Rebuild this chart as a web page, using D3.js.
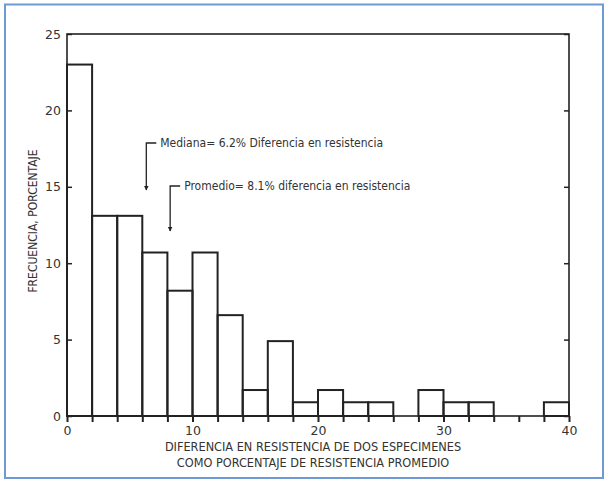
<!DOCTYPE html>
<html>
<head>
<meta charset="utf-8">
<script src="https://cdn.jsdelivr.net/npm/d3@7"></script>
<style>
  html, body { margin: 0; padding: 0; background: #fff; }
  svg { display: block; }
  text { font-family: "DejaVu Sans Condensed", "DejaVu Sans", sans-serif; fill: #333; }
</style>
</head>
<body>
<script>
// Histogram: difference in strength between two specimens (2 % bins)
const binStarts = [0, 2, 4, 6, 8, 10, 12, 14, 16, 18, 20, 22, 24, 26, 28, 30, 32, 34, 36, 38];
const frequency = [23, 13.1, 13.1, 10.7, 8.2, 10.7, 6.6, 1.7, 4.9, 0.9, 1.7, 0.9, 0.9, 0, 1.7, 0.9, 0.9, 0, 0, 0.9];
const binWidth = 2;
const xTickLabels = [0, 10, 20, 30, 40];
const yTickLabels = [0, 5, 10, 15, 20, 25];
const medianValue = 6.2;
const meanValue = 8.1;
const medianText = "Mediana= 6.2% Diferencia en resistencia";
const meanText = "Promedio= 8.1% diferencia en resistencia";
const xTitleLines = ["DIFERENCIA EN RESISTENCIA DE DOS ESPECIMENES", "COMO PORCENTAJE DE RESISTENCIA PROMEDIO"];
const yTitle = "FRECUENCIA, PORCENTAJE";

const W = 605, H = 482;
const plotLeft = 67, plotRight = 569, plotTop = 34, plotBottom = 416;
const ink = "#222";

const svg = d3.select("body").append("svg").attr("width", W).attr("height", H);

// outer blue frame
svg.append("rect")
  .attr("x", 5).attr("y", 4.5).attr("width", W - 7).attr("height", H - 8.5)
  .attr("fill", "#fff").attr("stroke", "#6e9bd6").attr("stroke-width", 2);

const x = d3.scaleLinear().domain([0, 40]).range([plotLeft, plotRight]);
const y = d3.scaleLinear().domain([0, 25]).range([plotBottom, plotTop]);

// plot frame
svg.append("rect")
  .attr("x", plotLeft).attr("y", plotTop)
  .attr("width", plotRight - plotLeft).attr("height", plotBottom - plotTop)
  .attr("fill", "none").attr("stroke", ink).attr("stroke-width", 1.6);

// bars
svg.append("g").selectAll("rect")
  .data(binStarts.map((s, i) => ({ s, v: frequency[i] })).filter(d => d.v > 0))
  .join("rect")
  .attr("x", d => x(d.s))
  .attr("y", d => y(d.v))
  .attr("width", d => x(d.s + binWidth) - x(d.s))
  .attr("height", d => y(0) - y(d.v))
  .attr("fill", "none").attr("stroke", ink).attr("stroke-width", 2);

// x axis: bin-edge ticks and numeric labels
const binEdges = d3.range(0, 40 + binWidth, binWidth);
const xTicks = svg.append("g").attr("transform", `translate(0,${plotBottom})`)
  .call(d3.axisBottom(x).tickValues(binEdges).tickSize(6).tickFormat(""));
xTicks.select(".domain").remove();
xTicks.selectAll("line").attr("stroke", ink).attr("stroke-width", 2);

const xLabels = svg.append("g").attr("transform", `translate(0,${plotBottom})`)
  .call(d3.axisBottom(x).tickValues(xTickLabels).tickSize(0).tickPadding(10).tickFormat(d3.format("d")));
xLabels.select(".domain").remove();
xLabels.selectAll("text").attr("font-size", 12.5).attr("fill", "#333")
  .style("font-family", "'DejaVu Sans', sans-serif");

// y axis: inward ticks on both sides
const yLeft = svg.append("g").attr("transform", `translate(${plotLeft},0)`)
  .call(d3.axisLeft(y).tickValues(yTickLabels).tickSizeInner(-5).tickSizeOuter(0).tickPadding(6));
yLeft.select(".domain").remove();
yLeft.selectAll("line").attr("stroke", ink).attr("stroke-width", 1.5);
yLeft.selectAll("text").attr("font-size", 12.5).attr("fill", "#333")
  .style("font-family", "'DejaVu Sans', sans-serif");

const yRight = svg.append("g").attr("transform", `translate(${plotRight},0)`)
  .call(d3.axisRight(y).tickValues(yTickLabels).tickSizeInner(-5).tickSizeOuter(0).tickFormat(""));
yRight.select(".domain").remove();
yRight.selectAll("line").attr("stroke", ink).attr("stroke-width", 1.5);

// axis titles
svg.append("g").selectAll("text")
  .data(xTitleLines).join("text")
  .attr("x", 313)
  .attr("y", (d, i) => 450.5 + i * 16.5)
  .attr("text-anchor", "middle")
  .attr("font-size", 12.6)
  .text(d => d);

svg.append("text")
  .attr("transform", "translate(37,221) rotate(-90)")
  .attr("text-anchor", "middle")
  .attr("font-size", 12)
  .text(yTitle);

// median / mean annotations with arrows
svg.append("defs").append("marker")
  .attr("id", "arrow").attr("viewBox", "0 0 10 10")
  .attr("refX", 9).attr("refY", 5)
  .attr("markerWidth", 5).attr("markerHeight", 7)
  .attr("markerUnits", "userSpaceOnUse")
  .attr("orient", "auto")
  .append("path").attr("d", "M0,0 L10,5 L0,10 Z").attr("fill", ink);

const notes = [
  { v: medianValue, label: medianText, yTop: 143, yTip: 190 },
  { v: meanValue, label: meanText, yTop: 186, yTip: 231 }
];
const ann = svg.append("g");
notes.forEach(n => {
  const ax = x(n.v) + 1.5;
  ann.append("path")
    .attr("d", `M${ax + 10},${n.yTop} H${ax} V${n.yTip}`)
    .attr("fill", "none").attr("stroke", ink).attr("stroke-width", 1.3)
    .attr("marker-end", "url(#arrow)");
  ann.append("text")
    .attr("x", ax + 14).attr("y", n.yTop + 4)
    .attr("font-size", 12)
    .text(n.label);
});
</script>
</body>
</html>
